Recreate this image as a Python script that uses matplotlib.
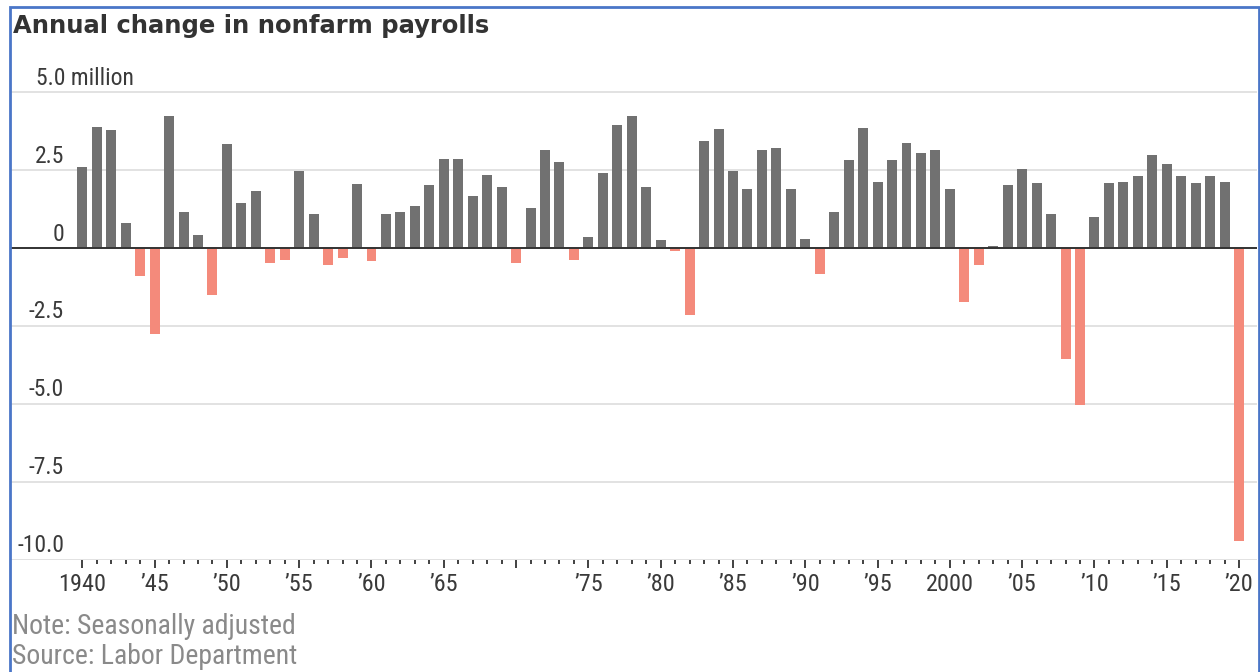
import matplotlib
matplotlib.use('Agg')
import matplotlib.pyplot as plt
from matplotlib import font_manager
from matplotlib.patches import Rectangle
from matplotlib.transforms import blended_transform_factory

years = list(range(1940, 2021))
# annual change, millions of jobs
change = [2.59, 3.90, 3.78, 0.81, -0.89, -2.76, 4.23, 1.16, 0.42, -1.51,
          3.33, 1.44, 1.84, -0.48, -0.37, 2.47, 1.10, -0.54, -0.32, 2.07,
          -0.43, 1.10, 1.16, 1.34, 2.02, 2.87, 2.87, 1.67, 2.35, 1.96,
          -0.48, 1.27, 3.16, 2.76, -0.37, 0.35, 2.41, 3.95, 4.23, 1.96,
          0.25, -0.09, -2.14, 3.43, 3.83, 2.47, 1.89, 3.16, 3.21, 1.89,
          0.30, -0.82, 1.16, 2.81, 3.84, 2.13, 2.81, 3.38, 3.04, 3.16,
          1.89, -1.74, -0.54, 0.07, 2.02, 2.53, 2.08, 1.10, -3.55, -5.03,
          0.98, 2.08, 2.13, 2.30, 2.99, 2.70, 2.30, 2.08, 2.30, 2.13,
          -9.42]

xticks = list(range(1940, 2021, 5))
xlabels = ['1940', '\u201945', '\u201950', '\u201955', '\u201960', '\u201965', '',
           '\u201975', '\u201980', '\u201985', '\u201990', '\u201995', '2000',
           '\u201905', '\u201910', '\u201915', '\u201920']
yticks = [5.0, 2.5, 0, -2.5, -5.0, -7.5, -10.0]
ylabels = ['5.0', '2.5', '0', '-2.5', '-5.0', '-7.5', '-10.0']

# pick a narrow face if there is one
names = set(f.name for f in font_manager.fontManager.ttflist)
narrow = 'DejaVu Sans'
for n in ['Liberation Sans Narrow', 'DejaVu Sans Condensed', 'Roboto Condensed', 'Open Sans Condensed', 'Noto Sans']:
    if n in names:
        narrow = n
        break

gray = '#717171'
red = '#f48a7b'
txt = '#3a3a3a'

fig = plt.figure(figsize=(12.6, 6.72), dpi=100)
ax = fig.add_axes([10/1260, 0.1674, 1247/1260, 0.8859 - 0.1674])

cols = [gray if v >= 0 else red for v in change]
ax.bar(years, change, width=0.69, color=cols, zorder=3)

ax.set_xlim(1935.0, 2021.24)
ax.set_ylim(-10, 5.5)

for y in yticks:
    ax.axhline(y, color='#e2e2e2', lw=1.4, zorder=1)
ax.axhline(0, color='#333333', lw=1.4, zorder=4)

for s in ax.spines.values():
    s.set_visible(False)

ax.set_yticks([])
ax.set_xticks(xticks)
ax.set_xticks(years, minor=True)
ax.set_xticklabels(xlabels, fontfamily=narrow, fontsize=17.5, color=txt)
ax.tick_params(axis='x', which='major', length=5.5, width=1.3, color='#333333', pad=4)
ax.tick_params(axis='x', which='minor', length=3, width=1.3, color='#333333')

tr = blended_transform_factory(ax.transAxes, ax.transData)
xr = (64 - 10) / 1247
for y, lab in zip(yticks, ylabels):
    if y == 5.0:
        ax.text((36 - 10) / 1247, y + 0.08, '5.0 million', transform=tr, ha='left', va='bottom',
                fontfamily=narrow, fontsize=17, color=txt)
    else:
        ax.text(xr, y + 0.08, lab, transform=tr, ha='right', va='bottom',
                fontfamily=narrow, fontsize=17, color=txt)

fig.text(13/1260, 1 - 33/672, 'Annual change in nonfarm payrolls', fontfamily='DejaVu Sans',
         fontweight='bold', fontsize=17.5, color='#333333', ha='left', va='baseline')
fig.text(12/1260, 1 - 634/672, 'Note: Seasonally adjusted', fontfamily=narrow,
         fontsize=20, color='#8a8a8a', ha='left', va='baseline')
fig.text(12/1260, 1 - 664/672, 'Source: Labor Department', fontfamily=narrow,
         fontsize=20, color='#8a8a8a', ha='left', va='baseline')

# blue frame round the screenshot
fig.patches.append(Rectangle((9.5/1260, -0.05), (1258.5 - 9.5)/1260, 1.05 - 7/672,
                             transform=fig.transFigure, fill=False, edgecolor='#4a76c8', lw=2))

fig.savefig('out.png', dpi=100)
